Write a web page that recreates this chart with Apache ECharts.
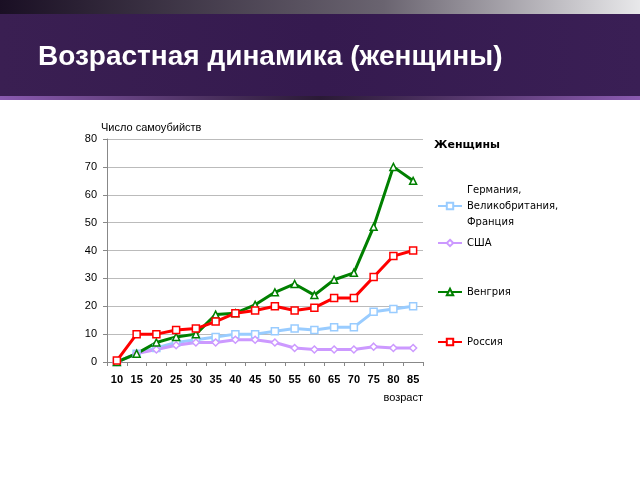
<!DOCTYPE html>
<html>
<head>
<meta charset="utf-8">
<script src="https://cdn.jsdelivr.net/npm/echarts@6/dist/echarts.min.js"></script>
<style>html,body{margin:0;padding:0;background:#fff}#main{width:640px;height:480px}</style>
</head>
<body>
<div id="main"></div>
<script>
var ages = ['10','15','20','25','30','35','40','45','50','55','60','65','70','75','80','85'];
var germany = [0, 3, 5, 7, 8, 9, 10, 10, 11, 12, 11.5, 12.5, 12.5, 18, 19, 20];
var usa = [0, 3, 4.5, 6, 7, 7, 8, 8, 7, 5, 4.5, 4.5, 4.5, 5.5, 5, 5];
var hungary = [0, 3, 7, 9, 10, 17, 17.5, 20.5, 25, 28, 24, 29.5, 32, 48.5, 70, 65];
var russia = [0.5, 10, 10, 11.5, 12, 14.5, 17.5, 18.5, 20, 18.5, 19.5, 23, 23, 30.5, 38, 40];

var nGer = 'Германия,\nВеликобритания,\nФранция';

window.onload = function () {
	var myChart = echarts.init(document.getElementById('main'));

	function ser(name, data, color, symbol) {
		return {
			name: name, type: 'line', data: data,
			symbol: symbol, symbolSize: 7,
			lineStyle: {color: color, width: 3},
			itemStyle: {color: '#fff', borderColor: color, borderWidth: 1.5}
		};
	}
	function leg(name, top) {
		return {
			data: [name], left: 432, top: top, orient: 'vertical',
			itemWidth: 24, itemHeight: 8,
			textStyle: {fontSize: 10, color: '#000', lineHeight: 16, fontFamily: 'DejaVu Sans'}
		};
	}

	var option = {
		animation: false,
		graphic: [
			{type: 'rect', shape: {x: 0, y: 0, width: 640, height: 14},
				style: {fill: new echarts.graphic.LinearGradient(0, 0, 1, 0, [{offset: 0, color: '#1a0f24'}, {offset: 0.6, color: '#6a6470'}, {offset: 1, color: '#e8e8ea'}])}},
			{type: 'rect', shape: {x: 0, y: 14, width: 640, height: 82},
				style: {fill: new echarts.graphic.LinearGradient(0, 0, 1, 0, [{offset: 0, color: '#3a1f52'}, {offset: 0.5, color: '#351a4f'}, {offset: 1, color: '#3a1f55'}])}},
			{type: 'rect', shape: {x: 0, y: 96, width: 640, height: 4},
				style: {fill: new echarts.graphic.LinearGradient(0, 0, 1, 0, [{offset: 0, color: '#8a5ab0'}, {offset: 0.5, color: '#2a1a35'}, {offset: 1, color: '#8a5ab0'}])}},
			{type: 'text', left: 38, top: 43,
				style: {text: 'Возрастная динамика (женщины)', fill: '#fff', font: 'bold 28px "Liberation Sans", Arial'}},
			{type: 'text', left: 434, top: 140,
				style: {text: 'Женщины', fill: '#000', font: 'bold 11px "DejaVu Sans"'}}
		],
		legend: [
			leg(nGer, 177),
			leg('США', 230),
			leg('Венгрия', 279),
			leg('Россия', 329)
		],
		grid: {left: 107, top: 139, width: 316, height: 223},
		xAxis: {
			type: 'category', data: ages, boundaryGap: true,
			name: 'возраст', nameLocation: 'end', nameGap: 0,
			nameTextStyle: {align: 'right', verticalAlign: 'top', padding: [30, 0, 0, 0], fontSize: 11, color: '#000'},
			axisLine: {lineStyle: {color: '#888'}},
			axisTick: {show: true, length: 4},
			axisLabel: {color: '#000', fontSize: 11, margin: 12, fontWeight: 'bold', interval: 0}
		},
		yAxis: {
			type: 'value', min: 0, max: 80, interval: 10,
			name: 'Число самоубийств', nameGap: 6,
			nameTextStyle: {align: 'left', padding: [0, 0, 0, -6], fontSize: 11, color: '#000'},
			axisLine: {show: true, lineStyle: {color: '#888'}},
			axisTick: {show: true, length: 4},
			axisLabel: {color: '#000', fontSize: 11, margin: 10},
			splitLine: {lineStyle: {color: '#bbb'}}
		},
		series: [
			ser(nGer, germany, '#99ccff', 'rect'),
			ser('США', usa, '#cc99ff', 'diamond'),
			ser('Венгрия', hungary, '#008000', 'triangle'),
			ser('Россия', russia, '#ff0000', 'rect')
		]
	};

	myChart.setOption(option);
};
</script>
</body>
</html>
